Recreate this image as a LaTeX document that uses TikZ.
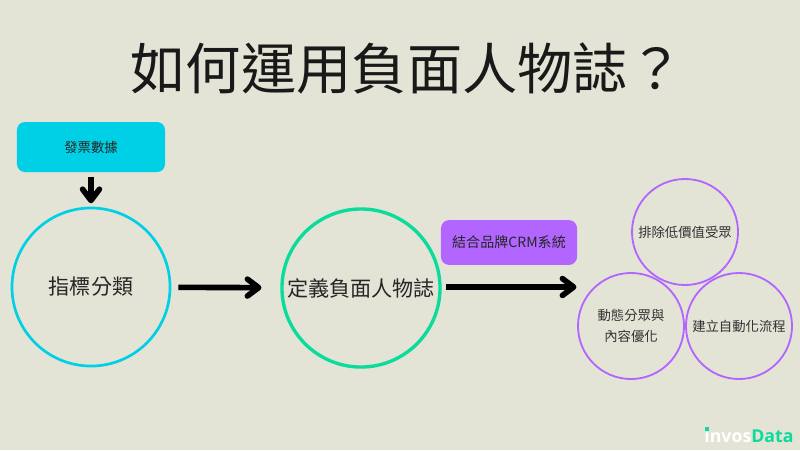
\documentclass[tikz,border=0pt]{standalone}
\usepackage{fontspec}
\setmainfont{Noto Sans CJK TC}
\setsansfont{Open Sans}
\usetikzlibrary{arrows.meta}
\definecolor{paper}{RGB}{227, 227, 214}
\definecolor{cyanbox}{RGB}{0, 208, 230}
\definecolor{greenring}{RGB}{11, 219, 156}
\definecolor{purplebox}{RGB}{179, 102, 255}
\pgfdeclarearrow{
  name=Chevron,
  setup code={
    \pgfarrowssettipend{0pt}
    \pgfarrowssetlineend{-3pt}
    \pgfarrowssetvisualbackend{-10pt}
    \pgfarrowshullpoint{0pt}{0pt}
    \pgfarrowshullpoint{-12pt}{8pt}
    \pgfarrowshullpoint{-12pt}{-8pt}
  },
  drawing code={
    \pgfsetlinewidth{4pt}
    \pgfsetroundcap
    \pgfsetroundjoin
    \pgfsetdash{}{0pt}
    \pgfpathmoveto{\pgfqpoint{-10.4pt}{6pt}}
    \pgfpathlineto{\pgfqpoint{-2.4pt}{0pt}}
    \pgfpathlineto{\pgfqpoint{-10.4pt}{-6pt}}
    \pgfusepathqstroke
  }
}
\tikzset{
  bigring/.style={
    draw, line width=1.9pt, circle, inner sep=0pt,
    minimum size=3.95cm,
    font=\fontsize{15}{18}\selectfont,
    text=black!85
  },
  smallring/.style={
    draw=purplebox, line width=1.3pt, circle, inner sep=0pt,
    minimum size=2.65cm,
    font=\fontsize{9.5}{15}\selectfont,
    align=center, text=black!80
  },
  tagbox/.style={
    rounded corners=2mm, inner sep=0pt,
    text=black!85
  },
  flow/.style={-{Chevron}, line width=4pt, black}
}

\begin{document}
\begin{tikzpicture}[x=0.025cm, y=-0.025cm]

% background
\fill[paper] (0, 0) rectangle (800, 450);

% title
\node[font=\fontsize{39.3}{44}\selectfont, text=black!90] (title) at (407, 68) {如何運用負面人物誌？};

% left branch
\node[tagbox, fill=cyanbox, minimum width=3.7cm, minimum height=1.25cm, font=\fontsize{9.5}{12}\selectfont] (invoice) at (91, 147) {發票數據};
\node[bigring, draw=cyanbox] (metric) at (91, 287) {指標分類};

% middle
\node[bigring, draw=greenring, line width=2.4pt, font=\fontsize{15}{18}\selectfont] (persona) at (361, 288) {定義負面人物誌};
\node[tagbox, fill=purplebox, minimum width=3.4cm, minimum height=1.12cm, font=\fontsize{10}{13}\selectfont] (crm) at (509, 242.5) {結合品牌CRM系統};

% outcomes
\node[smallring] (exclude) at (685, 232) {排除低價值受眾};
\node[smallring] (segment) at (631, 326) {動態分眾與\\內容優化};
\node[smallring] (auto) at (739, 326) {建立自動化流程};
\coordinate (trio) at (577, 287);

% arrows
\draw[flow, shorten <=3pt, shorten >=2pt] (invoice) -- (metric);
\draw[flow, shorten <=5pt, shorten >=13pt] (metric) -- (persona);
\draw[flow, shorten <=3.2pt] (persona.east |- trio) -- (trio);

% logo
\node[font=\sffamily\bfseries\fontsize{12.6}{16}\selectfont, inner sep=0pt, text=white] (logo) at (749, 436) {invos\textcolor{greenring}{Data}};
\fill[greenring] (705, 426.5) rectangle (709, 430.5);

\end{tikzpicture}
\end{document}
